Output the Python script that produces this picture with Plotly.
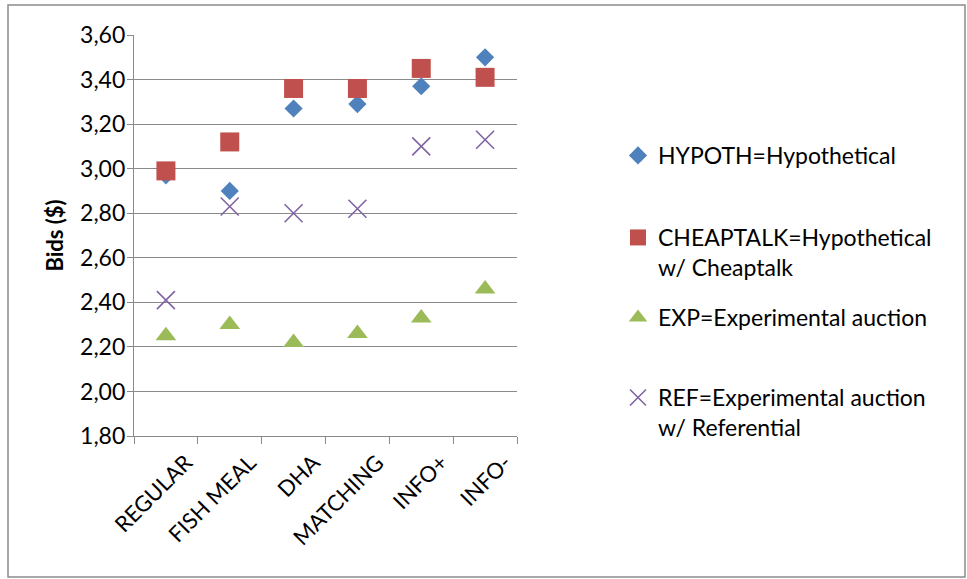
import plotly.graph_objects as go

# Bid means by treatment / information condition
categories = ["REGULAR", "FISH MEAL", "DHA", "MATCHING", "INFO+", "INFO-"]
hypoth = [2.97, 2.90, 3.27, 3.29, 3.37, 3.50]
cheaptalk = [2.99, 3.12, 3.36, 3.36, 3.45, 3.41]
exp_auction = [2.25, 2.30, 2.22, 2.26, 2.33, 2.46]
ref_auction = [2.41, 2.83, 2.80, 2.82, 3.10, 3.13]

series_names = [
    "HYPOTH=Hypothetical",
    "CHEAPTALK=Hypothetical<br>w/ Cheaptalk",
    "EXP=Experimental auction",
    "REF=Experimental auction<br>w/ Referential",
]

W, H = 967, 579
L, R, T, B = 134, 450, 35, 143
PW, PH = W - L - R, H - T - B

FONT = "Lato"
GRID = "#8a8a8a"


def px_x(px):
    return (px - L) / PW


def px_y(py):
    return (H - B - py) / PH


fig = go.Figure()

styles = [
    dict(symbol="diamond", size=14, color="#4F81BD"),
    dict(symbol="square", size=19, color="#C0504D"),
    dict(symbol="triangle-up", size=18, color="#9BBB59"),
]

for vals, name, st, leg in zip([hypoth, cheaptalk, exp_auction], series_names[:3], styles,
                               ["legend", "legend2", "legend3"]):
    fig.add_trace(go.Scatter(
        x=categories, y=vals, mode="markers", name=name, legend=leg,
        marker=dict(symbol=st["symbol"], size=st["size"], color=st["color"],
                    line=dict(width=0)),
    ))

fig.add_trace(go.Scatter(
    x=categories, y=ref_auction, mode="markers", name=series_names[3], legend="legend4",
    marker=dict(symbol="x-thin-open", size=18, color="#8064A2",
                line=dict(width=1.6, color="#8064A2")),
))

legend_tops = [134, 216, 296, 376]
legend_common = dict(
    x=px_x(618), xanchor="left", yanchor="top", valign="top",
    font=dict(family=FONT, size=23, color="#000000"),
    bgcolor="rgba(0,0,0,0)", borderwidth=0,
)

fig.update_layout(
    width=W, height=H,
    margin=dict(l=L, r=R, t=T, b=B, autoexpand=False),
    paper_bgcolor="white", plot_bgcolor="white",
    separators=",.",
    font=dict(family=FONT, size=23, color="#000000"),
    showlegend=True,
    legend=dict(y=px_y(legend_tops[0]), **legend_common),
    legend2=dict(y=px_y(legend_tops[1]), **legend_common),
    legend3=dict(y=px_y(legend_tops[2]), **legend_common),
    legend4=dict(y=px_y(legend_tops[3]), **legend_common),
    xaxis=dict(
        type="category", range=[-0.5, 5.5], tickson="boundaries",
        ticks="outside", ticklen=7, tickcolor=GRID, tickwidth=1.2,
        showline=True, linecolor=GRID, linewidth=1.2,
        showgrid=False, tickangle=-45, automargin=False,
        ticklabelshift=20, ticklabelstandoff=4,
        tickfont=dict(family=FONT, size=22, color="#000000"),
    ),
    yaxis=dict(
        range=[1.8, 3.6], dtick=0.2, tick0=1.8, tickformat=".2f",
        ticks="outside", ticklen=6, tickcolor=GRID, tickwidth=1.2,
        showline=True, linecolor=GRID, linewidth=1.2,
        showgrid=True, gridcolor=GRID, gridwidth=1.2, zeroline=False,
        automargin=False, ticklabelstandoff=-3,
        tickfont=dict(family=FONT, size=23, color="#000000"),
        title=dict(text="<b>Bids ($)</b>", standoff=10,
                   font=dict(family=FONT, size=22, color="#000000")),
    ),
    shapes=[dict(
        type="rect", xref="paper", yref="paper",
        x0=px_x(8), x1=px_x(965), y0=px_y(577), y1=px_y(5),
        line=dict(color="#8c8c8c", width=1.5), fillcolor="rgba(0,0,0,0)",
        layer="below",
    )],
)

fig.write_html("out.html")
